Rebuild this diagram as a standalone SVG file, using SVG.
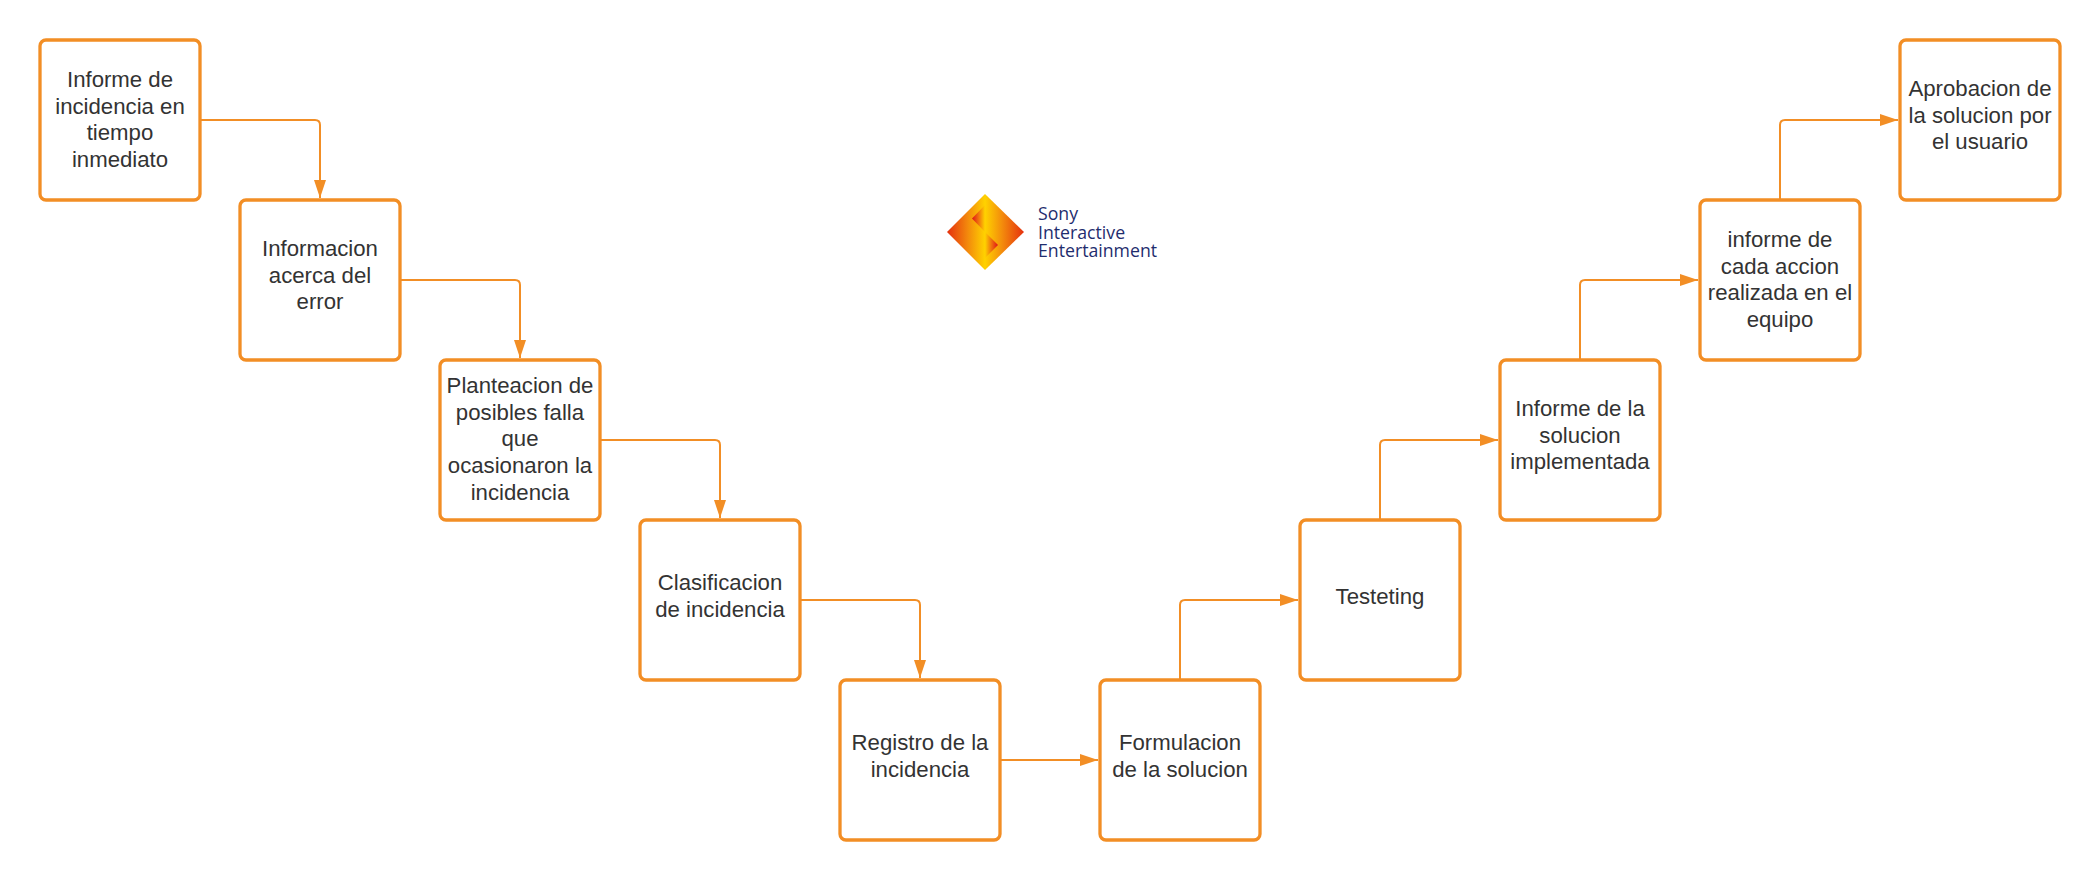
<svg xmlns="http://www.w3.org/2000/svg" width="2100" height="880" viewBox="0 0 2100 880">
<style>
.box{fill:#fff;stroke:#f28e25;stroke-width:3.3;}
.label{font-family:"Liberation Sans",Arial,sans-serif;font-size:22.2px;fill:#333;text-anchor:middle;}
.conn{fill:none;stroke:#f28e25;stroke-width:2;}
.logo{font-family:"Open Sans","Noto Sans",sans-serif;font-size:17.7px;font-weight:500;fill:#1f2d6e;}
</style>
<defs>
<marker id="arr" markerUnits="userSpaceOnUse" markerWidth="18" markerHeight="12" refX="18" refY="6" orient="auto"><path d="M0 0L18 6L0 12Z" fill="#f28e25"/></marker>
<linearGradient id="gl" gradientUnits="userSpaceOnUse" x1="947" y1="0" x2="985" y2="0"><stop offset="0" stop-color="#e5300f"/><stop offset="0.55" stop-color="#f38a0c"/><stop offset="1" stop-color="#ffd200"/></linearGradient>
<linearGradient id="gr" gradientUnits="userSpaceOnUse" x1="985" y1="0" x2="1024" y2="0"><stop offset="0" stop-color="#ffd200"/><stop offset="0.45" stop-color="#f38a0c"/><stop offset="1" stop-color="#e5300f"/></linearGradient>
<linearGradient id="s1" gradientUnits="userSpaceOnUse" x1="972" y1="0" x2="985" y2="0"><stop offset="0" stop-color="#e0101a"/><stop offset="1" stop-color="#ffd200"/></linearGradient>
<linearGradient id="s2" gradientUnits="userSpaceOnUse" x1="985" y1="0" x2="998" y2="0"><stop offset="0" stop-color="#ffd200"/><stop offset="1" stop-color="#e0101a"/></linearGradient>
</defs>
<g id="connectors">
<path class="conn" marker-end="url(#arr)" d="M200 120H315Q320 120 320 125V198"/>
<path class="conn" marker-end="url(#arr)" d="M400 280H515Q520 280 520 285V358"/>
<path class="conn" marker-end="url(#arr)" d="M600 440H715Q720 440 720 445V518"/>
<path class="conn" marker-end="url(#arr)" d="M800 600H915Q920 600 920 605V678"/>
<path class="conn" marker-end="url(#arr)" d="M1000 760H1098"/>
<path class="conn" marker-end="url(#arr)" d="M1180 680V605Q1180 600 1185 600H1298"/>
<path class="conn" marker-end="url(#arr)" d="M1380 520V445Q1380 440 1385 440H1498"/>
<path class="conn" marker-end="url(#arr)" d="M1580 360V285Q1580 280 1585 280H1698"/>
<path class="conn" marker-end="url(#arr)" d="M1780 200V125Q1780 120 1785 120H1898"/>
</g>
<g id="n1"><rect class="box" x="40" y="40" width="160" height="160" rx="6"/><text class="label"><tspan x="120" y="87">Informe de</tspan><tspan x="120" y="113.7">incidencia en</tspan><tspan x="120" y="140.3">tiempo</tspan><tspan x="120" y="167">inmediato</tspan></text></g>
<g id="n2"><rect class="box" x="240" y="200" width="160" height="160" rx="6"/><text class="label"><tspan x="320" y="256">Informacion</tspan><tspan x="320" y="282.7">acerca del</tspan><tspan x="320" y="309.3">error</tspan></text></g>
<g id="n3"><rect class="box" x="440" y="360" width="160" height="160" rx="6"/><text class="label"><tspan x="520" y="393">Planteacion de</tspan><tspan x="520" y="419.7">posibles falla</tspan><tspan x="520" y="446.3">que</tspan><tspan x="520" y="473">ocasionaron la</tspan><tspan x="520" y="499.7">incidencia</tspan></text></g>
<g id="n4"><rect class="box" x="640" y="520" width="160" height="160" rx="6"/><text class="label"><tspan x="720" y="590">Clasificacion</tspan><tspan x="720" y="616.7">de incidencia</tspan></text></g>
<g id="n5"><rect class="box" x="840" y="680" width="160" height="160" rx="6"/><text class="label"><tspan x="920" y="750">Registro de la</tspan><tspan x="920" y="776.7">incidencia</tspan></text></g>
<g id="n6"><rect class="box" x="1100" y="680" width="160" height="160" rx="6"/><text class="label"><tspan x="1180" y="750">Formulacion</tspan><tspan x="1180" y="776.7">de la solucion</tspan></text></g>
<g id="n7"><rect class="box" x="1300" y="520" width="160" height="160" rx="6"/><text class="label"><tspan x="1380" y="604">Testeting</tspan></text></g>
<g id="n8"><rect class="box" x="1500" y="360" width="160" height="160" rx="6"/><text class="label"><tspan x="1580" y="416">Informe de la</tspan><tspan x="1580" y="442.7">solucion</tspan><tspan x="1580" y="469.3">implementada</tspan></text></g>
<g id="n9"><rect class="box" x="1700" y="200" width="160" height="160" rx="6"/><text class="label"><tspan x="1780" y="247">informe de</tspan><tspan x="1780" y="273.7">cada accion</tspan><tspan x="1780" y="300.3">realizada en el</tspan><tspan x="1780" y="326.5">equipo</tspan></text></g>
<g id="n10"><rect class="box" x="1900" y="40" width="160" height="160" rx="6"/><text class="label"><tspan x="1980" y="96">Aprobacion de</tspan><tspan x="1980" y="122.7">la solucion por</tspan><tspan x="1980" y="149.3">el usuario</tspan></text></g>
<g id="logo">
<path d="M985 194L947 232L985 270Z" fill="url(#gl)"/>
<path d="M985 194L1024 232L985 270Z" fill="url(#gr)"/>
<path d="M985 205L972 218.5L985 232Z" fill="url(#s1)"/>
<path d="M985 232L998 245L985 258Z" fill="url(#s2)"/>
<text class="logo"><tspan x="1038" y="220">Sony</tspan><tspan x="1038" y="238.5">Interactive</tspan><tspan x="1038" y="257">Entertainment</tspan></text>
</g>
</svg>
